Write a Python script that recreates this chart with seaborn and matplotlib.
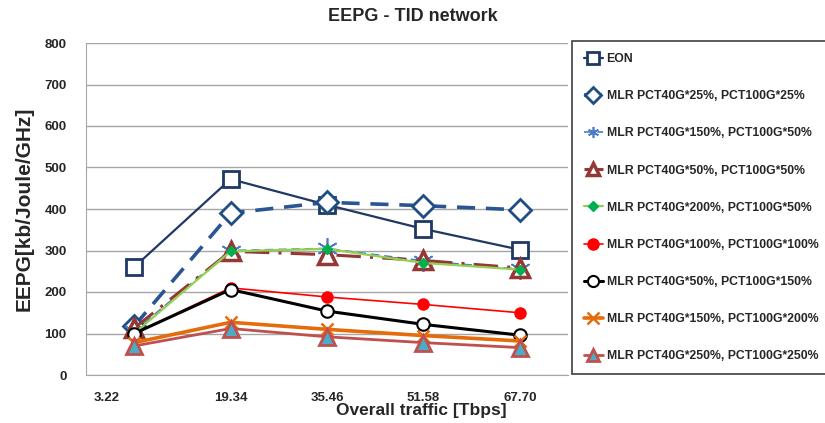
import matplotlib
matplotlib.use("Agg")
import matplotlib.pyplot as plt
from matplotlib.transforms import ScaledTranslation
import seaborn as sns
import pandas as pd

# Data
traffic = ["3.22", "19.34", "35.46", "51.58", "67.70"]
eon = [260, 472, 410, 352, 302]
mlr_25_25 = [118, 390, 416, 408, 398]
mlr_150_50 = [105, 300, 305, 275, 255]
mlr_50_50 = [113, 298, 290, 276, 258]
mlr_200_50 = [100, 298, 304, 270, 254]
mlr_100_100 = [100, 210, 188, 170, 150]
mlr_50_150 = [100, 206, 154, 122, 96]
mlr_150_200 = [78, 127, 110, 95, 82]
mlr_250_250 = [70, 112, 92, 78, 66]

series = [
    ("EON", eon, dict(color="#1F3864", lw=1.6, ls="-", marker="s", ms=11, mfc="white", mec="#1F3864", mew=2)),
    ("MLR PCT40G*25%, PCT100G*25%", mlr_25_25, dict(color="#2A5594", lw=2.6, ls=(0, (5, 3)), marker="D", ms=11, mfc="white", mec="#1F4E85", mew=2)),
    ("MLR PCT40G*150%, PCT100G*50%", mlr_150_50, dict(color="#4A7CC8", lw=1.2, ls=(0, (5, 3)), marker=(6, 2, 0), ms=15, mfc="none", mec="#4A7CC8", mew=1.2)),
    ("MLR PCT40G*50%, PCT100G*50%", mlr_50_50, dict(color="#953735", lw=2.2, ls=(0, (8, 3, 1, 3)), marker="^", ms=13, mfc="white", mec="#953735", mew=2.5)),
    ("MLR PCT40G*200%, PCT100G*50%", mlr_200_50, dict(color="#92D050", lw=1.6, ls="-", marker="D", ms=5, mfc="#00B050", mec="#00B050", mew=1)),
    ("MLR PCT40G*100%, PCT100G*100%", mlr_100_100, dict(color="#FF0000", lw=1.2, ls="-", marker="o", ms=8, mfc="#FF0000", mec="#FF0000", mew=1)),
    ("MLR PCT40G*50%, PCT100G*150%", mlr_50_150, dict(color="#000000", lw=2.2, ls="-", marker="o", ms=9, mfc="white", mec="#000000", mew=1.5)),
    ("MLR PCT40G*150%, PCT100G*200%", mlr_150_200, dict(color="#E46C0A", lw=2.6, ls="-", marker="x", ms=9, mfc="none", mec="#E46C0A", mew=1.8)),
    ("MLR PCT40G*250%, PCT100G*250%", mlr_250_250, dict(color="#C0504D", lw=2.0, ls="-", marker="^", ms=11, mfc="#4BACC6", mec="#C0504D", mew=2)),
]

sns.set_style("white")
plt.rcParams["font.family"] = ["Liberation Sans", "DejaVu Sans"]

fig = plt.figure(figsize=(8.25, 4.23), dpi=100)
ax = fig.add_axes([86 / 825, 1 - 375 / 423, (568 - 86) / 825, (375 - 43) / 423])

for name, vals, st in series:
    df = pd.DataFrame({"traffic": traffic, "eepg": vals})
    sns.lineplot(data=df, x="traffic", y="eepg", ax=ax, label=name, sort=False,
                 color=st["color"], linewidth=st["lw"], linestyle=st["ls"],
                 marker=st["marker"], markersize=st["ms"], markerfacecolor=st["mfc"],
                 markeredgecolor=st["mec"], markeredgewidth=st["mew"])

ax.set_xlim(-0.5, 4.5)
ax.set_ylim(0, 800)
ax.set_yticks(range(0, 801, 100))
ax.yaxis.grid(True, color="#A6A6A6", lw=1)
ax.set_axisbelow(True)
for s in ["top", "right"]:
    ax.spines[s].set_visible(False)
ax.spines["left"].set_color("#A6A6A6")
ax.spines["bottom"].set_color("#A6A6A6")
ax.set_xticks(range(len(traffic)))
ax.set_xticklabels(traffic)
ax.set_xticks([i - 0.5 for i in range(len(traffic) + 1)], minor=True)
ax.tick_params(axis="x", which="major", length=0, pad=12)
ax.tick_params(axis="x", which="minor", length=5, color="#A6A6A6", direction="out")
ax.tick_params(axis="y", length=0, pad=14)
for lab in ax.get_xticklabels() + ax.get_yticklabels():
    lab.set_fontsize(9.5)
    lab.set_fontweight("bold")
# first category label sits left of its point in the original
first = ax.get_xticklabels()[0]
first.set_transform(first.get_transform() + ScaledTranslation(-0.28, 0, fig.dpi_scale_trans))

ax.set_xlabel("Overall traffic [Tbps]", fontsize=12.5, fontweight="bold")
ax.xaxis.set_label_coords((421 - 86) / 482, -0.085)
ax.set_ylabel("EEPG[kb/Joule/GHz]", fontsize=15, fontweight="bold", labelpad=8)
fig.suptitle("EEPG - TID network", fontsize=13, fontweight="bold", x=0.5, y=0.98)

handles, labels = ax.get_legend_handles_labels()
ax.get_legend().remove()
leg = fig.legend(handles, labels, loc="upper left", bbox_to_anchor=(572 / 825, 1 - 41 / 423),
                 frameon=True, fancybox=False, edgecolor="#404040", framealpha=1,
                 prop={"weight": "bold", "size": 8.8}, labelspacing=2.06,
                 handlelength=1.55, handletextpad=0.3, borderpad=0.98, borderaxespad=0)
leg.get_frame().set_linewidth(1.2)
for h in leg.legend_handles:
    h.set_markersize(min(h.get_markersize(), 8))

fig.savefig("out.png", dpi=100)
